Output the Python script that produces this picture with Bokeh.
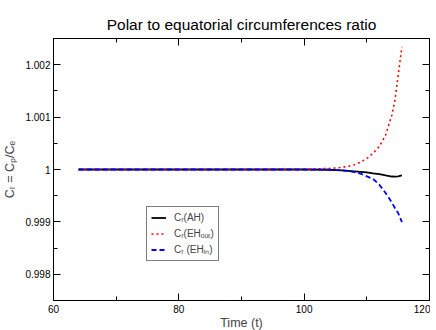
from bokeh.plotting import figure
from bokeh.models import LinearAxis, FixedTicker, Legend, LegendItem, Range1d
from bokeh.embed import file_html
from bokeh.resources import INLINE

# ---- data ----
t = [64, 70, 80, 90, 100, 104, 106, 107, 108, 109, 110, 111, 112, 113, 114, 114.5, 115, 115.6]
cr_ah = [1.0, 1.0, 1.0, 1.0, 1.0, 0.999995, 0.999985, 0.999975, 0.999965, 0.999955,
         0.999945, 0.999928, 0.999912, 0.999888, 0.999866, 0.999863, 0.99987, 0.999886]
cr_eh_out = [1.0, 1.0, 1.0, 1.0, 1.000004, 1.00002, 1.00004, 1.00006, 1.00009, 1.00014,
             1.00021, 1.00031, 1.00044, 1.00066, 1.00104, 1.00133, 1.0018, 1.00234]
cr_eh_in = [1.0, 1.0, 1.0, 1.0, 1.0, 0.999995, 0.999985, 0.99997, 0.99995, 0.99992,
            0.99987, 0.99982, 0.99971, 0.99955, 0.99937, 0.99926, 0.99917, 0.998996]

x_ticks = [60, 80, 100, 120]
x_minor = [70, 90, 110]
y_ticks = [0.998, 0.999, 1.0, 1.001, 1.002]
y_tick_labels = ["0.998", "0.999", "1", "1.001", "1.002"]
y_minor = [0.9985, 0.9995, 1.0005, 1.0015]

series_labels = ["Cᵣ(AH)", "Cᵣ(EHₒᵤₜ)", "Cᵣ (EHᵢₙ)"]
title_text = "Polar to equatorial circumferences ratio"

FONT = "Liberation Sans"

p = figure(frame_width=376, frame_height=262,
           x_range=Range1d(60, 120), y_range=Range1d(0.9975, 1.0025),
           x_axis_type=None, y_axis_type=None,
           output_backend="svg", toolbar_location=None,
           min_border_left=43, min_border_right=1, min_border_top=38, min_border_bottom=26,
           background_fill_color="white", border_fill_color="white")
p.xgrid.visible = False
p.ygrid.visible = False
p.outline_line_color = "black"
p.outline_line_width = 1

p.title.text = title_text
p.title.text_font = FONT
p.title.text_font_size = "15.5px"
p.title.text_font_style = "normal"
p.title.align = "center"
p.title.vertical_align = "top"
p.title.text_color = "black"
p.title.standoff = 8


def style_axis(ax, labels=True):
    ax.axis_line_color = "black"
    ax.axis_line_width = 1
    ax.major_tick_in = 7
    ax.major_tick_out = 0
    ax.minor_tick_in = 4
    ax.minor_tick_out = 0
    ax.major_tick_line_color = "black"
    ax.minor_tick_line_color = "black"
    ax.major_label_text_font = FONT
    if labels:
        ax.major_label_text_color = "black"
        ax.major_label_text_font_size = "10px"
        ax.major_label_standoff = 4
    else:
        ax.major_label_text_color = None
        ax.major_label_text_font_size = "1px"
        ax.major_label_standoff = 0


xt = FixedTicker(ticks=x_ticks, minor_ticks=x_minor)
yt = FixedTicker(ticks=y_ticks, minor_ticks=y_minor)

xb = LinearAxis(ticker=xt, axis_label="Time (t)")
style_axis(xb)
xb.axis_label_text_font = FONT
xb.axis_label_text_font_size = "12.5px"
xb.axis_label_text_font_style = "normal"
xb.axis_label_standoff = 0
p.add_layout(xb, "below")

yl = LinearAxis(ticker=yt, axis_label="Cᵣ = Cₚ/Cₑ",
                major_label_overrides={v: s for v, s in zip(y_ticks, y_tick_labels)})
style_axis(yl)
yl.major_label_standoff = 3
yl.axis_label_text_font = FONT
yl.axis_label_text_font_size = "12.5px"
yl.axis_label_text_font_style = "normal"
yl.axis_label_standoff = 5
p.add_layout(yl, "left")

xa = LinearAxis(ticker=xt)
style_axis(xa, labels=False)
p.add_layout(xa, "above")

yr = LinearAxis(ticker=yt)
style_axis(yr, labels=False)
p.add_layout(yr, "right")

r1 = p.line(t, cr_ah, line_color="black", line_width=1.8)
r2 = p.line(t, cr_eh_out, line_color="#ff0000", line_width=1.6, line_dash="2 3")
r3 = p.line(t, cr_eh_in, line_color="#0000ff", line_width=1.8, line_dash="5 3")

legend = Legend(items=[LegendItem(label=series_labels[0], renderers=[r1]),
                       LegendItem(label=series_labels[1], renderers=[r2]),
                       LegendItem(label=series_labels[2], renderers=[r3])],
                location=(93, 39),
                label_text_font=FONT, label_text_font_size="10px",
                label_height=13, glyph_height=13, glyph_width=15,
                label_standoff=8, spacing=2, padding=4, margin=0,
                border_line_color="black", border_line_width=1,
                background_fill_color="white", background_fill_alpha=1)
p.add_layout(legend, "center")

open("out.html", "w").write(file_html(p, INLINE))
